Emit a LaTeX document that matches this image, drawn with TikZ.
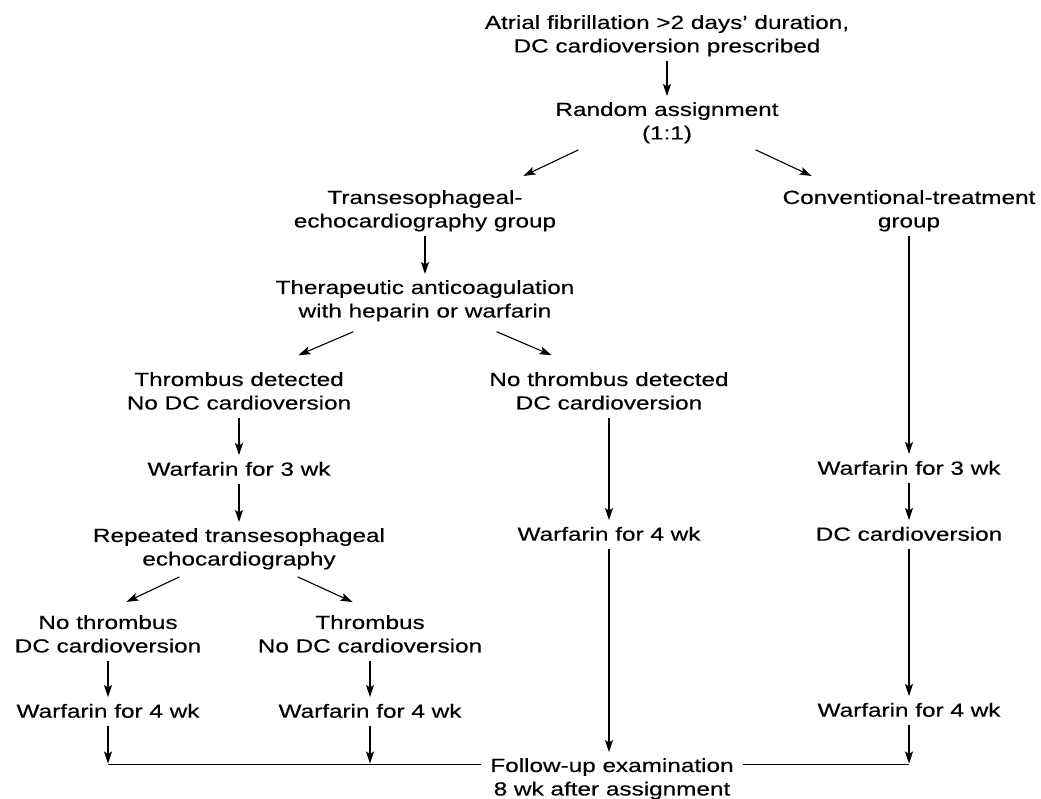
\documentclass[tikz,border=0pt]{standalone}
\usepackage{fontspec}
\setmainfont[FakeStretch=1.28,FakeBold=0.3]{Liberation Sans}
\usetikzlibrary{arrows.meta}

\begin{document}
\begin{tikzpicture}[x=1pt, y=-1pt,
	txt/.style={anchor=north, inner sep=0pt, align=center, font=\fontsize{19}{23.5}\selectfont,
		execute at begin node={\rule{0pt}{14.5pt}}, execute at end node={\rule[-4.5pt]{0pt}{0pt}}},
	arr/.style={-{Stealth[length=12pt,width=8pt,inset=2.5pt]}, line width=1.1pt, shorten <=4pt, shorten >=6pt},
	drop/.style={arr, shorten >=1pt}]
	\useasboundingbox (0,0) rectangle (1041,798);
	% top of the trial
	\node[txt] (start) at (667,15) {Atrial fibrillation >2 days' duration,\\DC cardioversion prescribed};
	\node[txt] (rand) at (667,102) {Random assignment\\(1:1)};
	\node[txt] (tee) at (425,190) {Transesophageal-\\echocardiography group};
	\node[txt] (conv) at (909,190) {Conventional-treatment\\group};
	% transesophageal arm
	\node[txt] (anti) at (425,280) {Therapeutic anticoagulation\\with heparin or warfarin};
	\node[txt] (thrD) at (239,372) {Thrombus detected\\No DC cardioversion};
	\node[txt] (nothrD) at (609,372) {No thrombus detected\\DC cardioversion};
	\node[txt] (w3a) at (239,461) {Warfarin for 3 wk};
	\node[txt] (rep) at (239,528) {Repeated transesophageal\\echocardiography};
	\node[txt] (w4m) at (609,526) {Warfarin for 4 wk};
	\node[txt] (nothr) at (108,615) {No thrombus\\DC cardioversion};
	\node[txt] (thr) at (370,615) {Thrombus\\No DC cardioversion};
	\node[txt] (w4a) at (108,703) {Warfarin for 4 wk};
	\node[txt] (w4b) at (370,703) {Warfarin for 4 wk};
	% conventional arm
	\node[txt] (w3c) at (909,460) {Warfarin for 3 wk};
	\node[txt] (dcc) at (909,526) {DC cardioversion};
	\node[txt] (w4c) at (909,702) {Warfarin for 4 wk};
	\node[txt] (follow) at (612,758) {Follow-up examination\\8 wk after assignment};
	\coordinate (fuy) at ([yshift=-6.5pt]follow.north);

	\draw[arr] (start.south) -- (rand.north);
	\draw[arr] ([xshift=-85pt,yshift=-4pt]rand.south) -- ([xshift=93pt,yshift=11.5pt]tee.north);
	\draw[arr] ([xshift=85pt,yshift=-4pt]rand.south) -- ([xshift=-92pt,yshift=11.5pt]conv.north);
	\draw[arr] (tee.south) -- (anti.north);
	\draw[arr] ([xshift=-68pt,yshift=-8pt]anti.south) -- ([xshift=54pt,yshift=14.5pt]thrD.north);
	\draw[arr] ([xshift=68pt,yshift=-8pt]anti.south) -- ([xshift=-52pt,yshift=14.5pt]nothrD.north);
	\draw[arr] (thrD.south) -- (w3a.north);
	\draw[arr] (w3a.south) -- (rep.north);
	\draw[arr] (nothrD.south) -- (w4m.north);
	\draw[arr] ([xshift=-56pt,yshift=-5pt]rep.south) -- ([xshift=13pt,yshift=10.5pt]nothr.north);
	\draw[arr] ([xshift=55pt,yshift=-5pt]rep.south) -- ([xshift=-12pt,yshift=10.5pt]thr.north);
	\draw[arr] (nothr.south) -- (w4a.north);
	\draw[arr] (thr.south) -- (w4b.north);
	\draw[arr] (conv.south) -- (w3c.north);
	\draw[arr] (w3c.south) -- (dcc.north);
	\draw[arr] (dcc.south) -- (w4c.north);
	\draw[arr] (w4m.south) -- (w4m.south |- follow.north);
	% merge into follow-up
	\draw[drop] (w4a.south) -- (w4a.south |- fuy);
	\draw[drop] (w4b.south) -- (w4b.south |- fuy);
	\draw[drop] (w4c.south) -- (w4c.south |- fuy);
	\draw[line width=1.1pt] (w4a.south |- fuy) -- ([xshift=-9pt]follow.west |- fuy);
	\draw[line width=1.1pt] ([xshift=9pt]follow.east |- fuy) -- (w4c.south |- fuy);
\end{tikzpicture}
\end{document}
